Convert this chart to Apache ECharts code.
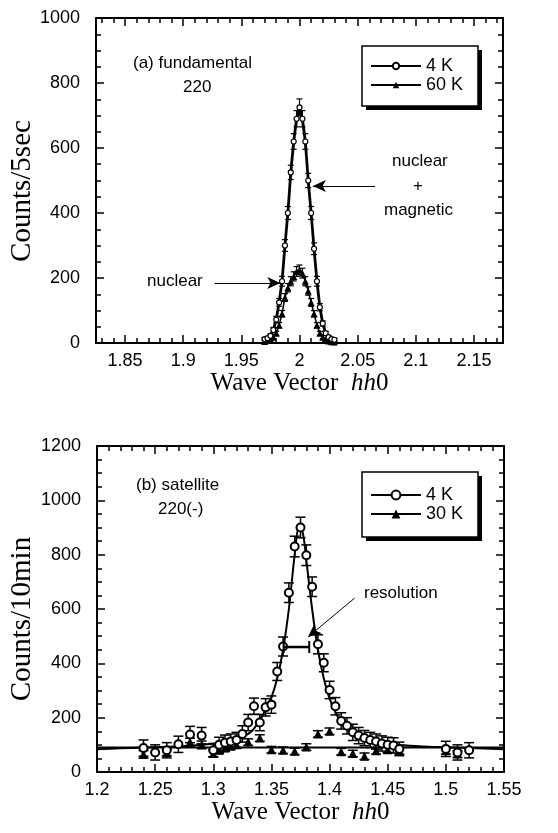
<!DOCTYPE html>
<html><head><meta charset="utf-8">
<script src="https://cdn.jsdelivr.net/npm/echarts@6/dist/echarts.min.js"></script>
<style>html,body{margin:0;padding:0;background:#fff}#c{width:558px;height:833px}</style>
</head><body><div id="c"></div>
<script>
// ---------- Panel (a) fundamental 220 ----------
const aX      = [1.97,1.9725,1.975,1.9775,1.98,1.9825,1.985,1.9875,1.99,1.9925,1.995,1.9975,2.0,2.0025,2.005,2.0075,2.01,2.0125,2.015,2.0175,2.02,2.0225,2.025,2.0275,2.03];
const a4K     = [12,15,22,40,72,125,190,300,400,525,620,690,725,690,620,500,400,290,190,110,60,30,18,12,10];
const a4KErr  = [5,5,6,8,10,12,15,18,20,22,24,25,26,25,24,22,20,18,15,11,8,6,5,5,5];
const a60K    = [5,8,12,18,30,55,90,140,170,190,205,220,225,215,190,160,125,90,55,30,18,10,6,4,3];
const a60KErr = [4,4,4,5,6,8,10,12,13,14,14,15,15,15,14,13,12,10,8,6,5,4,4,4,4];
const aXLabels = [1.85,1.9,1.95,2.0,2.05,2.1,2.15];

// ---------- Panel (b) satellite 220(-) ----------
const b4KX    = [1.24,1.25,1.26,1.27,1.28,1.29,1.30,1.305,1.31,1.315,1.32,1.325,1.33,1.335,1.34,1.345,1.35,1.355,1.36,1.365,1.37,1.375,1.38,1.385,1.39,1.395,1.40,1.405,1.41,1.415,1.42,1.425,1.43,1.435,1.44,1.445,1.45,1.455,1.46,1.50,1.51,1.52];
const b4K     = [88,72,80,102,138,134,80,100,108,112,118,140,182,242,182,238,248,370,462,660,830,900,798,682,470,402,302,242,188,170,146,134,125,118,112,105,100,98,85,85,72,80];
const b4KErr  = [30,28,28,30,30,30,25,28,28,28,28,30,30,30,30,32,32,33,35,36,38,38,38,36,35,33,32,32,30,30,30,30,28,28,28,28,28,28,25,28,28,28];
const b30KX   = [1.24,1.26,1.28,1.29,1.30,1.305,1.31,1.315,1.32,1.33,1.34,1.35,1.36,1.37,1.38,1.39,1.40,1.41,1.42,1.43,1.44,1.45,1.46,1.50,1.51];
const b30K    = [65,72,110,100,68,80,88,95,100,110,125,82,80,76,92,140,150,75,68,58,78,82,78,78,66];
const b30KErr = [14,12,14,14,12,12,12,12,12,12,12,12,12,12,12,12,12,12,12,12,12,12,12,12,12];
const bFitX   = [1.20,1.22,1.24,1.26,1.28,1.30,1.31,1.32,1.33,1.335,1.34,1.345,1.35,1.355,1.36,1.365,1.37,1.3735,1.377,1.38,1.385,1.39,1.395,1.40,1.405,1.41,1.42,1.43,1.44,1.45,1.46,1.48,1.50,1.52,1.55];
const bFit4K  = [84,87,90,93,97,104,110,120,140,160,190,230,275,345,450,600,800,900,880,780,600,450,345,270,220,185,145,125,112,104,99,94,91,88,84];
const bFlatX  = [1.20,1.55];
const bFlat30K= [90,90];
const resolution = [1.3605,1.3825,460];
const bXLabels = [1.2,1.25,1.3,1.35,1.4,1.45,1.5,1.55];

// ---------- build ----------
const pairs = (xs, ys) => xs.map((x,i)=>[x, ys[i]]);
const errs  = (xs, ys, es) => xs.map((x,i)=>[x, ys[i]-es[i], ys[i]+es[i]]);
const aMinor = [];
for (let k = 183; k <= 217; k++) { if (k % 5 !== 0) aMinor.push(k/100); }
const bMinor = [];
for (let k = 121; k <= 154; k++) { if (k % 5 !== 0) bMinor.push(k/100); }

const tickFont = {fontFamily:'Liberation Sans', fontSize:18, color:'#000'};
const xTitleFont = {fontFamily:'Liberation Serif', fontSize:25, color:'#000',
  rich:{i:{fontFamily:'Liberation Serif', fontSize:25, fontStyle:'italic', color:'#000'}}};
const fmt = v => String(+(+v).toFixed(2));

function xAx(grid, min, max, pos, vals, len, line, labels, name) {
  return {
    gridIndex:grid, type:'value', min:min, max:max, position:pos,
    axisLine:{show:line, onZero:false, lineStyle:{color:'#000', width:2}},
    axisTick:{show:true, inside:true, length:len, customValues:vals, lineStyle:{color:'#000', width:1.5}},
    axisLabel: labels ? Object.assign({show:true, customValues:vals, formatter:fmt, margin:9}, tickFont) : {show:false},
    splitLine:{show:false},
    name: name || '', nameLocation:'middle', nameGap:25, nameTextStyle:xTitleFont
  };
}
function yAx(grid, max, pos, labels) {
  return {
    gridIndex:grid, type:'value', min:0, max:max, interval:200, position:pos,
    axisLine:{show:true, onZero:false, lineStyle:{color:'#000', width:2}},
    axisTick:{show:true, inside:true, length:8, lineStyle:{color:'#000', width:1.5}},
    minorTick:{show:true, splitNumber:4, length:5, lineStyle:{color:'#000', width:1.5}},
    axisLabel: labels ? Object.assign({show:true, margin:16, formatter:v => String(v)}, tickFont) : {show:false},
    splitLine:{show:false}
  };
}
function errBars(cap, lw) {
  return function(params, api) {
    const x = api.value(0), lo = api.value(1), hi = api.value(2);
    const a = api.coord([x, lo]), b = api.coord([x, hi]);
    const st = {stroke:'#000', lineWidth:lw};
    return {type:'group', children:[
      {type:'line', shape:{x1:a[0], y1:a[1], x2:b[0], y2:b[1]}, style:st},
      {type:'line', shape:{x1:a[0]-cap, y1:a[1], x2:a[0]+cap, y2:a[1]}, style:st},
      {type:'line', shape:{x1:b[0]-cap, y1:b[1], x2:b[0]+cap, y2:b[1]}, style:st}
    ]};
  };
}
function resBar(params, api) {
  const a = api.coord([api.value(0), api.value(2)]), b = api.coord([api.value(1), api.value(2)]);
  const st = {stroke:'#000', lineWidth:2.5};
  return {type:'group', children:[
    {type:'line', shape:{x1:a[0], y1:a[1], x2:b[0], y2:b[1]}, style:st},
    {type:'line', shape:{x1:a[0], y1:a[1]-6, x2:a[0], y2:a[1]+6}, style:{stroke:'#000', lineWidth:2}},
    {type:'line', shape:{x1:b[0], y1:b[1]-6, x2:b[0], y2:b[1]+6}, style:{stroke:'#000', lineWidth:2}}
  ]};
}
const arrowLine = (x1,y1,x2,y2) => [{coord:[x1,y1], symbol:'none'}, {coord:[x2,y2], symbol:'arrow', symbolSize:[9,13]}];
const mlBase = {silent:true, animation:false, label:{show:false}, lineStyle:{color:'#000', width:1, type:'solid'}, emphasis:{disabled:true}};

const legendBase = {
  orient:'vertical', itemGap:1, itemWidth:50, padding:0, z:10,
  textStyle:{fontFamily:'Liberation Sans', fontSize:18, color:'#000', padding:[0,0,0,0]},
  selectedMode:false
};
const txt = (left, top, text) => ({type:'text', left:left, top:top, z:5,
  style:{text:text, fontFamily:'Liberation Sans', fontSize:17, fill:'#000'}});
const yTitle = (cx, cy, text) => ({type:'text', x:cx, y:cy, rotation:Math.PI/2, z:5,
  style:{text:text, x:0, y:0, align:'center', verticalAlign:'middle', textAlign:'center', textVerticalAlign:'middle',
    fontFamily:'Liberation Serif', fontSize:29, fill:'#000'}});
const box = (x, y, w, h) => ([
  {type:'rect', z:1, shape:{x:x+4, y:y+4, width:w, height:h}, style:{fill:'#000'}},
  {type:'rect', z:2, shape:{x:x, y:y, width:w, height:h}, style:{fill:'#fff', stroke:'#000', lineWidth:1.5}}
]);

const chart = echarts.init(document.getElementById('c'), null, {renderer:'canvas'});
chart.setOption({
  animation:false,
  backgroundColor:'#fff',
  grid:[
    {left:96, top:18, width:407, height:325, containLabel:false, outerBoundsMode:'none'},
    {left:97, top:446, width:407, height:326, containLabel:false, outerBoundsMode:'none'}
  ],
  xAxis:[
    xAx(0, 1.825, 2.175, 'bottom', aXLabels, 8, true, true, 'Wave Vector  {i|hh}0'),
    xAx(0, 1.825, 2.175, 'bottom', aMinor, 5, false, false),
    xAx(0, 1.825, 2.175, 'top', aXLabels, 8, true, false),
    xAx(0, 1.825, 2.175, 'top', aMinor, 5, false, false),
    xAx(1, 1.2, 1.55, 'bottom', bXLabels, 8, true, true, 'Wave Vector  {i|hh}0'),
    xAx(1, 1.2, 1.55, 'bottom', bMinor, 5, false, false),
    xAx(1, 1.2, 1.55, 'top', bXLabels, 8, true, false),
    xAx(1, 1.2, 1.55, 'top', bMinor, 5, false, false)
  ],
  yAxis:[
    yAx(0, 1000, 'left', true),
    yAx(0, 1000, 'right', false),
    yAx(1, 1200, 'left', true),
    yAx(1, 1200, 'right', false)
  ],
  legend:[
    Object.assign({left:370, top:57, itemHeight:8, data:['4 K','60 K']}, legendBase),
    Object.assign({left:370, top:486, itemHeight:11, data:['4 K ','30 K']}, legendBase)
  ],
  series:[
    // panel (a)
    {type:'custom', xAxisIndex:0, yAxisIndex:0, renderItem:errBars(3,1.2), encode:{x:0, y:[1,2]}, data:errs(aX,a4K,a4KErr), z:2, silent:true},
    {type:'custom', xAxisIndex:0, yAxisIndex:0, renderItem:errBars(3,1.2), encode:{x:0, y:[1,2]}, data:errs(aX,a60K,a60KErr), z:2, silent:true},
    {name:'60 K', type:'line', xAxisIndex:0, yAxisIndex:0, data:pairs(aX,a60K),
      symbol:'triangle', symbolSize:7, itemStyle:{color:'#000'}, lineStyle:{color:'#000', width:1.5}, z:3,
      markLine:Object.assign({data:[arrowLine(1.927,185,1.9835,185)]}, mlBase)},
    {name:'4 K', type:'line', xAxisIndex:0, yAxisIndex:0, data:pairs(aX,a4K),
      symbol:'circle', symbolSize:5, itemStyle:{color:'#fff', borderColor:'#000', borderWidth:1.2}, lineStyle:{color:'#000', width:2.8}, z:4,
      markLine:Object.assign({data:[arrowLine(2.065,483,2.0115,483)]}, mlBase)},
    // panel (b)
    {type:'custom', xAxisIndex:4, yAxisIndex:2, renderItem:errBars(5,1.5), encode:{x:0, y:[1,2]}, data:errs(b30KX,b30K,b30KErr), z:2, silent:true},
    {type:'custom', xAxisIndex:4, yAxisIndex:2, renderItem:errBars(5,1.5), encode:{x:0, y:[1,2]}, data:errs(b4KX,b4K,b4KErr), z:2, silent:true},
    {name:'30 K', type:'line', xAxisIndex:4, yAxisIndex:2, data:pairs(bFlatX,bFlat30K), showSymbol:false,
      symbol:'triangle', symbolSize:9, itemStyle:{color:'#000'}, lineStyle:{color:'#000', width:2}, z:3},
    {name:'4 K ', type:'line', xAxisIndex:4, yAxisIndex:2, data:pairs(bFitX,bFit4K), showSymbol:false, smooth:0.3,
      symbol:'circle', symbolSize:8, itemStyle:{color:'#fff', borderColor:'#000', borderWidth:2}, lineStyle:{color:'#000', width:2}, z:3,
      markLine:Object.assign({data:[arrowLine(1.4215,640,1.3815,497)]}, mlBase)},
    {type:'scatter', xAxisIndex:4, yAxisIndex:2, data:pairs(b30KX,b30K), symbol:'triangle', symbolSize:9,
      itemStyle:{color:'#000', opacity:1}, z:4, silent:true},
    {type:'scatter', xAxisIndex:4, yAxisIndex:2, data:pairs(b4KX,b4K), symbol:'circle', symbolSize:8,
      itemStyle:{color:'#fff', borderColor:'#000', borderWidth:2, opacity:1}, z:5, silent:true},
    {type:'custom', xAxisIndex:4, yAxisIndex:2, renderItem:resBar, encode:{x:[0,1], y:2}, data:[resolution], z:6, silent:true}
  ],
  graphic:[
    ...box(362, 46, 116, 60),
    ...box(362, 472, 116, 65),
    yTitle(22, 191, 'Counts/5sec'),
    yTitle(22, 619, 'Counts/10min'),
    txt(133, 55, '(a) fundamental'),
    txt(183, 79, '220'),
    txt(392, 153, 'nuclear'),
    txt(413, 178, '+'),
    txt(384, 202, 'magnetic'),
    txt(147, 273, 'nuclear'),
    txt(136, 477, '(b) satellite'),
    txt(158, 501, '220(-)'),
    txt(364, 585, 'resolution')
  ]
});
</script>
</body></html>
